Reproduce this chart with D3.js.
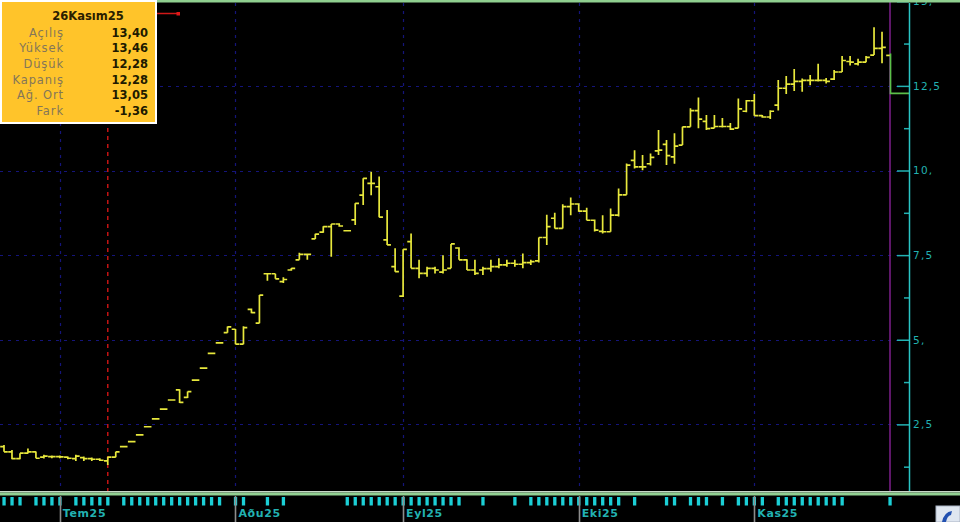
<!DOCTYPE html>
<html>
<head>
<meta charset="utf-8">
<script src="https://cdn.jsdelivr.net/npm/d3@7"></script>
<style>
  body { margin: 0; background: #000; overflow: hidden; }
  svg { display: block; }
</style>
</head>
<body>
<svg id="chart" width="960" height="522"></svg>
<script>
// Daily OHLC bars, June 20 - Nov 26 2025
const dates = [
  "06-20","06-23","06-24","06-25","06-26","06-27","06-30",
  "07-01","07-02","07-03","07-04","07-07","07-08","07-09","07-10","07-11","07-14","07-16","07-17","07-18","07-21","07-22","07-23","07-24","07-25","07-28","07-29","07-30","07-31",
  "08-01","08-04","08-05","08-06","08-07","08-08","08-11","08-12","08-13","08-14","08-15","08-18","08-19","08-20","08-21","08-22","08-25","08-26","08-27","08-28","08-29",
  "09-01","09-02","09-03","09-04","09-05","09-08","09-09","09-10","09-11","09-12","09-15","09-16","09-17","09-18","09-19","09-22","09-23","09-24","09-25","09-26","09-29","09-30",
  "10-01","10-02","10-03","10-06","10-07","10-08","10-09","10-10","10-13","10-14","10-15","10-16","10-17","10-20","10-21","10-22","10-23","10-24","10-27","10-28","10-30","10-31",
  "11-03","11-04","11-05","11-06","11-07","11-10","11-11","11-12","11-13","11-14","11-17","11-18","11-19","11-20","11-21","11-24","11-25","11-26"
];
const open = [
  1.84,1.69,1.49,1.65,1.69,1.53,1.55,
  1.55,1.53,1.49,1.52,1.49,1.47,1.42,1.53,1.84,1.99,2.19,2.43,2.66,2.95,3.22,3.52,3.30,3.81,4.16,4.60,4.91,5.21,
  5.31,4.87,5.90,5.49,6.95,6.95,6.72,7.06,7.36,7.52,7.98,8.18,8.34,8.42,8.22,8.54,9.27,9.62,9.52,7.95,7.16,
  6.29,7.90,7.11,6.96,7.11,7.00,7.11,7.71,7.36,7.06,7.06,7.10,7.16,7.21,7.26,7.23,7.28,7.33,8.02,8.59,8.29,8.93,
  9.01,8.80,8.53,8.20,8.19,8.68,9.28,10.30,10.11,10.20,10.58,10.77,10.40,10.75,11.29,11.77,11.45,11.25,11.30,11.30,11.25,11.75,
  12.06,11.62,11.58,11.93,12.43,12.55,12.63,12.66,12.66,12.66,12.70,12.91,13.22,13.15,13.20,13.41,13.61,13.40
];
const high = [
  1.89,1.74,1.65,1.79,1.70,1.60,1.58,
  1.58,1.55,1.60,1.55,1.52,1.50,1.54,1.69,1.84,1.99,2.19,2.43,2.66,2.95,3.22,3.54,3.47,3.81,4.16,4.60,4.91,5.39,
  5.32,5.40,5.92,6.32,6.95,6.95,6.85,7.12,7.57,7.52,8.13,8.35,8.42,8.44,8.24,9.03,9.77,9.96,9.82,8.83,7.70,
  7.67,8.14,7.36,7.16,7.16,7.50,7.83,7.73,7.38,7.36,7.16,7.36,7.41,7.36,7.36,7.55,7.36,8.02,8.69,8.75,9.00,9.20,
  9.03,8.90,8.55,8.68,8.88,9.47,10.21,10.60,10.46,10.50,11.20,10.90,11.10,11.29,11.84,12.16,11.64,11.64,11.55,11.40,12.13,12.08,
  12.26,11.64,11.78,12.67,12.79,13.00,12.72,12.82,13.15,12.73,12.97,13.38,13.38,13.30,13.38,14.23,14.10,13.46
];
const low = [
  1.69,1.47,1.47,1.64,1.50,1.49,1.50,
  1.50,1.47,1.42,1.42,1.42,1.42,1.30,1.53,1.84,1.99,2.19,2.43,2.66,2.95,3.22,3.13,3.28,3.81,4.16,4.60,4.91,5.21,
  4.87,4.87,5.78,5.49,6.74,6.80,6.68,7.04,7.36,7.36,7.98,8.16,7.45,8.34,8.20,8.39,8.98,9.27,8.62,7.80,7.01,
  6.26,7.11,6.82,6.86,6.96,6.96,7.11,7.36,7.06,6.91,6.91,7.01,7.11,7.16,7.16,7.11,7.21,7.28,7.80,8.29,8.29,8.68,
  8.78,8.53,8.20,8.14,8.19,8.64,9.28,10.06,10.01,10.15,10.46,10.16,10.20,10.75,11.29,11.25,11.20,11.25,11.27,11.20,11.25,11.72,
  11.62,11.56,11.52,11.77,12.26,12.35,12.33,12.52,12.63,12.57,12.67,12.91,13.10,13.10,13.20,13.41,13.17,12.28
];
const close = [
  1.69,1.49,1.65,1.69,1.50,1.56,1.55,
  1.54,1.50,1.56,1.49,1.47,1.44,1.53,1.69,1.84,1.99,2.19,2.43,2.66,2.95,3.22,3.15,3.47,3.81,4.16,4.60,4.91,5.38,
  4.87,5.36,5.80,6.32,6.95,6.80,6.78,7.11,7.52,7.52,8.12,8.34,8.42,8.36,8.22,9.03,9.77,9.62,8.62,7.80,7.01,
  7.67,7.11,6.96,7.11,7.06,7.06,7.83,7.36,7.06,6.96,7.10,7.16,7.21,7.26,7.23,7.28,7.31,8.02,8.34,8.29,8.93,9.01,
  8.80,8.53,8.24,8.19,8.68,9.28,10.16,10.11,10.11,10.39,10.60,10.44,10.72,11.29,11.77,11.52,11.24,11.30,11.30,11.22,11.82,12.06,
  11.62,11.58,11.75,12.43,12.55,12.63,12.66,12.66,12.66,12.63,12.91,13.25,13.20,13.20,13.34,13.61,13.64,12.28
];

// days flagged in the strip under the chart
const markerDays = [
  "06-20","06-23","06-24","06-26","06-27","06-30","07-01","07-03","07-04","07-07","07-08","07-09",
  "07-11","07-14","07-16","07-17","07-18","07-21","07-22","07-23","07-24","07-25","07-28","07-29","07-30",
  "08-01","08-04","08-07","08-11","08-21","08-22","08-25","08-26","08-27","08-28","08-29",
  "09-01","09-02","09-03","09-04","09-05","09-08","09-09","09-10","09-15","09-19",
  "09-23","09-24","09-25","09-26","09-29","09-30","10-01","10-02","10-03","10-06","10-07","10-08",
  "10-10","10-16","10-17","10-21","10-22","10-23","10-27","10-30","10-31","11-03","11-04",
  "11-06","11-07","11-10","11-11","11-12","11-13","11-14","11-17","11-18","11-26"
];

const monthStarts = ["07-01", "08-01", "09-01", "10-01", "11-03"];
const monthLabels = ["Tem25", "Aðu25", "Eyl25", "Eki25", "Kas25"];

const yTicks = [2.5, 5, 7.5, 10, 12.5, 15];
const yTickLabels = ["2,5", "5,", "7,5", "10,", "12,5", "15,"];
const yMinorTicks = [1.25, 3.75, 6.25, 8.75, 11.25, 13.75];

const cursorDay = "07-09";
const infoTitle = "26Kasım25";
const infoLabels = ["Açılış", "Yüksek", "Düşük", "Kapanış", "Ağ. Ort", "Fark"];
const infoValues = ["13,40", "13,46", "12,28", "12,28", "13,05", "-1,36"];

const W = 960, H = 522;
const AXIS_X = 909;
const PLOT_BOTTOM = 491;
const TICK = 3.8;
const BAR_COLOR = "#e8e83c";
const LAST_COLOR = "#5cbf4a";
const TEAL = "#22b2b2";

const svg = d3.select("#chart");
svg.append("rect").attr("width", W).attr("height", H).attr("fill", "#000");

const x = d3.scalePoint().domain(dates).range([4, 890]);
const y = d3.scaleLinear().domain([0, 15]).range([509, 1.25]);

// dotted grid
const grid = svg.append("g").attr("stroke", "#14147a").attr("stroke-width", 1.2).attr("stroke-dasharray", "3,5");
grid.selectAll("line.h").data(yTicks.slice(0, 5)).join("line")
  .attr("x1", 0).attr("x2", AXIS_X - 10)
  .attr("y1", (d) => Math.round(y(d)) + 0.5).attr("y2", (d) => Math.round(y(d)) + 0.5);
grid.selectAll("line.v").data(monthStarts).join("line")
  .attr("x1", (d) => Math.round(x(d)) + 0.5).attr("x2", (d) => Math.round(x(d)) + 0.5)
  .attr("y1", 3).attr("y2", PLOT_BOTTOM);

// red crosshair
svg.append("line")
  .attr("x1", x(cursorDay)).attr("x2", x(cursorDay))
  .attr("y1", 0).attr("y2", PLOT_BOTTOM)
  .attr("stroke", "#c41414").attr("stroke-width", 1.5).attr("stroke-dasharray", "4,4");

// current day marker line
const lastDay = dates[dates.length - 1];
svg.append("line")
  .attr("x1", x(lastDay)).attr("x2", x(lastDay))
  .attr("y1", 0).attr("y2", PLOT_BOTTOM)
  .attr("stroke", "#7e1f8c").attr("stroke-width", 1.5);

// OHLC bars
const bars = dates.map((d, i) => ({ d, o: open[i], h: high[i], l: low[i], c: close[i], last: i === dates.length - 1 }));
const barG = svg.append("g").attr("fill", "none").attr("stroke-width", 1.7);
barG.selectAll("path.bar").data(bars.filter((b) => !b.last)).join("path")
  .attr("stroke", BAR_COLOR)
  .attr("d", (b) => {
    const cx = x(b.d);
    return `M${cx},${y(b.h)}V${y(b.l)}M${cx - TICK},${y(b.o)}H${cx}M${cx},${y(b.c)}H${cx + TICK}`;
  });
const lastBar = bars[bars.length - 1];
barG.append("path").attr("stroke", BAR_COLOR)
  .attr("d", `M${x(lastBar.d) - TICK},${y(lastBar.o)}H${x(lastBar.d)}`);
barG.append("path").attr("stroke", LAST_COLOR)
  .attr("d", `M${x(lastBar.d) + 0.5},${y(lastBar.h)}V${y(lastBar.l)}H${AXIS_X}`);

// right price axis
const axisFont = (sel) => sel.selectAll("text")
  .attr("fill", TEAL).attr("font-family", "DejaVu Sans").attr("font-size", 10.5)
  .attr("letter-spacing", 1.2);
const yAxis = d3.axisRight(y).tickValues(yTicks).tickSize(-12).tickPadding(4)
  .tickFormat((d, i) => yTickLabels[i]);
const axG = svg.append("g").attr("transform", `translate(${AXIS_X},0)`).call(yAxis);
axG.select(".domain").remove();
axG.selectAll("line").attr("stroke", TEAL).attr("stroke-width", 1.5);
axG.call(axisFont);
const minorAxis = d3.axisRight(y).tickValues(yMinorTicks).tickSize(-5).tickFormat("");
const mnG = svg.append("g").attr("transform", `translate(${AXIS_X},0)`).call(minorAxis);
mnG.select(".domain").remove();
mnG.selectAll("line").attr("stroke", TEAL).attr("stroke-width", 1.5);
svg.append("line").attr("x1", AXIS_X + 0.5).attr("x2", AXIS_X + 0.5).attr("y1", 3).attr("y2", PLOT_BOTTOM)
  .attr("stroke", "#2ac4c4").attr("stroke-width", 1.5);

// frame lines
svg.append("rect").attr("x", 0).attr("y", 0).attr("width", W).attr("height", 2.5).attr("fill", "#8fcf8f");
svg.append("rect").attr("x", 0).attr("y", PLOT_BOTTOM).attr("width", W).attr("height", 1.5).attr("fill", "#c8d8c8");
svg.append("rect").attr("x", 0).attr("y", PLOT_BOTTOM + 1.5).attr("width", W).attr("height", 3).attr("fill", "#92d092");

// day markers strip
svg.append("g").selectAll("rect").data(markerDays).join("rect")
  .attr("x", (d) => x(d) - 1.6).attr("y", 497).attr("width", 3.3).attr("height", 8.5)
  .attr("fill", "#1ccfd6");

// month ticks and labels
const mG = svg.append("g");
mG.selectAll("line").data(monthStarts).join("line")
  .attr("x1", (d) => Math.round(x(d)) + 0.5).attr("x2", (d) => Math.round(x(d)) + 0.5)
  .attr("y1", 496).attr("y2", H)
  .attr("stroke", "#8c8c8c").attr("stroke-width", 1.6);
mG.selectAll("text").data(monthStarts).join("text")
  .attr("x", (d) => x(d) + 3).attr("y", 517)
  .attr("fill", TEAL).attr("font-family", "DejaVu Sans").attr("font-size", 11)
  .attr("font-weight", "bold").attr("letter-spacing", 0.6)
  .text((d, i) => monthLabels[i]);

// corner icon
const icon = svg.append("g").attr("transform", "translate(936,506)");
icon.append("rect").attr("width", 24).attr("height", 16).attr("fill", "#dfe6f0").attr("stroke", "#aab4c4");
icon.append("path").attr("d", "M6,16 Q8,6 16,5 L15,9 Q11,10 10,16 Z").attr("fill", "#2250b0");

// info box
const box = svg.append("g");
box.append("rect").attr("x", 1).attr("y", 1).attr("width", 155).attr("height", 122)
  .attr("fill", "#ffc42a").attr("stroke", "#ffffff").attr("stroke-width", 2);
box.append("text").attr("x", 88).attr("y", 19.5).attr("text-anchor", "middle")
  .attr("font-family", "DejaVu Sans").attr("font-size", 11.5).attr("font-weight", "bold")
  .attr("fill", "#2a2000").text(infoTitle);
box.selectAll("text.lbl").data(infoLabels).join("text").attr("class", "lbl")
  .attr("x", 64).attr("y", (d, i) => 36.5 + i * 15.7).attr("text-anchor", "end")
  .attr("font-family", "DejaVu Sans").attr("font-size", 11.5).attr("letter-spacing", 0.9)
  .attr("fill", "#847659").text((d) => d);
box.selectAll("text.val").data(infoValues).join("text").attr("class", "val")
  .attr("x", 148).attr("y", (d, i) => 36.5 + i * 15.7).attr("text-anchor", "end")
  .attr("font-family", "DejaVu Sans").attr("font-size", 11.5).attr("font-weight", "bold")
  .attr("fill", "#201a00").text((d) => d);

// red cursor stub at the top
svg.append("line").attr("x1", 157).attr("x2", 178).attr("y1", 13.5).attr("y2", 13.5)
  .attr("stroke", "#d01818").attr("stroke-width", 1.5);
svg.append("rect").attr("x", 176.5).attr("y", 12).attr("width", 3.5).attr("height", 3.5).attr("fill", "#e01818");
</script>
</body>
</html>
